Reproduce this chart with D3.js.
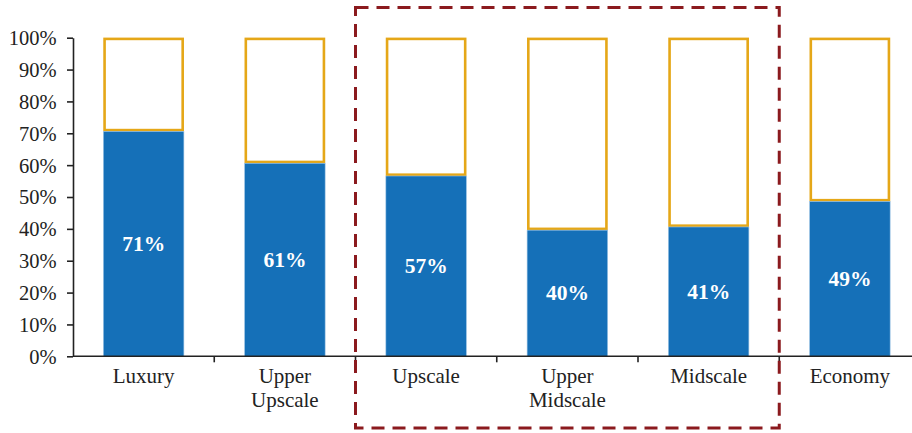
<!DOCTYPE html>
<html><head><meta charset="utf-8">
<script src="https://cdn.jsdelivr.net/npm/d3@7"></script>
<style>body{margin:0;background:#fff}svg{display:block}</style>
</head><body>
<svg id="c" width="912" height="433"></svg>
<script>
const categories = [["Luxury"],["Upper","Upscale"],["Upscale"],["Upper","Midscale"],["Midscale"],["Economy"]];
const values = [71, 61, 57, 40, 41, 49];
const yTicks = [0,10,20,30,40,50,60,70,80,90,100];
const highlighted = [2, 3, 4];

const svg = d3.select("#c");
const x = d3.scaleBand().domain(d3.range(categories.length)).range([73, 920.5]).paddingInner(0.43).paddingOuter(0.215);
const xb = d3.scaleLinear().domain([0, categories.length]).range([73, 920.5]);
const y = d3.scaleLinear().domain([0, 100]).range([356.3, 37.7]);
const font = "'Liberation Serif','Times New Roman',serif";

// y axis
const ya = svg.append("g").attr("transform","translate(73,0)")
  .call(d3.axisLeft(y).tickValues(yTicks).tickFormat(d=>d+"%").tickSize(6).tickSizeOuter(0));
ya.select(".domain").attr("stroke","#222").attr("stroke-width",1.6);
ya.selectAll(".tick line").attr("stroke","#222").attr("stroke-width",1.6);
ya.selectAll(".tick text").attr("font-family",font).attr("font-size",20.5).attr("fill","#222").attr("x",-16.5).attr("dy","0.34em");

// bars: remainder (outline)
svg.append("g").selectAll("rect").data(values).join("rect")
  .attr("x",(d,i)=>x(i)+1.2).attr("width",x.bandwidth()-2.4)
  .attr("y",y(100)+1.2).attr("height",d=>y(d)-y(100)-1.2)
  .attr("fill","#fff").attr("stroke","#E5A718").attr("stroke-width",2.6);
// blue bars
svg.append("g").selectAll("rect").data(values).join("rect")
  .attr("x",(d,i)=>x(i)).attr("width",x.bandwidth())
  .attr("y",d=>y(d)+1.3).attr("height",d=>y(0)-y(d)-1.3)
  .attr("fill","#1570B8").attr("stroke","#9cc3e4").attr("stroke-width",0.6);

// x axis
svg.append("line").attr("x1",73).attr("x2",912).attr("y1",y(0)).attr("y2",y(0)).attr("stroke","#222").attr("stroke-width",1.6);
svg.append("g").selectAll("line").data(d3.range(1,categories.length)).join("line")
  .attr("x1",d=>xb(d)).attr("x2",d=>xb(d)).attr("y1",y(0)).attr("y2",y(0)+6).attr("stroke","#222").attr("stroke-width",1.6);

// category labels
const cl = svg.append("g").selectAll("text").data(categories).join("text")
  .attr("font-family",font).attr("font-size",21).attr("fill","#222").attr("text-anchor","middle");
cl.each(function(lines,i){
  const t = d3.select(this);
  lines.forEach((s,j)=>t.append("tspan").attr("x",x(i)+x.bandwidth()/2).attr("y",383+j*23.5).text(s));
});

// value labels
svg.append("g").selectAll("text").data(values).join("text")
  .attr("x",(d,i)=>x(i)+x.bandwidth()/2).attr("y",d=>(y(d)+y(0))/2).attr("dy","0.36em")
  .attr("text-anchor","middle").attr("font-family",font).attr("font-weight","bold").attr("font-size",21.5).attr("fill","#fff")
  .text(d=>d+"%");

// highlight box
const h0 = d3.min(highlighted), h1 = d3.max(highlighted)+1;
svg.append("rect").attr("x",xb(h0)).attr("y",7.5).attr("width",xb(h1)-xb(h0)).attr("height",420.5)
  .attr("fill","none").attr("stroke","#8B1A1E").attr("stroke-width",3).attr("stroke-dasharray","13 8");
</script>
</body></html>
